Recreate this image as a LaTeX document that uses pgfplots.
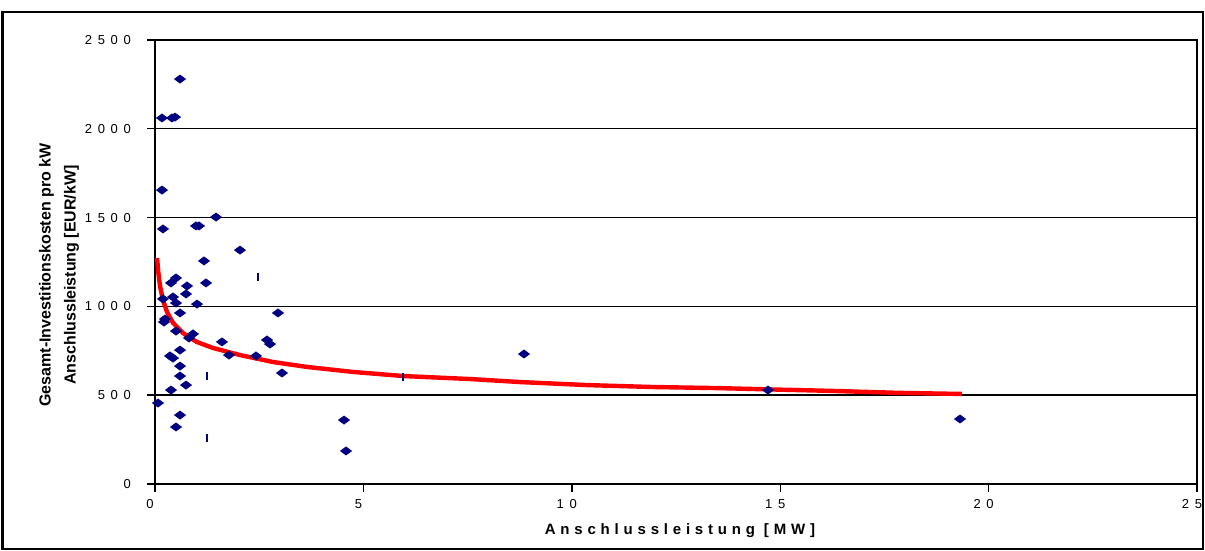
\documentclass[border=0pt]{standalone}
\usepackage{pgfplots}
\pgfplotsset{compat=1.18}
\usepackage{fontspec}
\setmainfont{Liberation Sans}
\newfontfamily\tickfont[LetterSpace=44]{Liberation Sans}
\newfontfamily\labfont[LetterSpace=32]{Liberation Sans}
\definecolor{navy}{RGB}{0,0,128}
\definecolor{fitred}{RGB}{255,0,0}

\pgfplotstableread{
x y
0.600 2280
0.168 2061
0.408 2061
0.480 2066
0.168 1655
0.192 1436
0.984 1453
1.056 1453
1.464 1503
2.039 1317
1.176 1256
0.504 1160
0.384 1132
0.768 1115
1.224 1132
0.744 1070
0.432 1053
0.192 1042
0.504 1019
1.008 1013
0.600 963
2.951 963
0.240 929
0.216 912
0.504 861
0.912 845
0.816 822
1.607 800
2.687 811
2.759 788
0.600 754
0.360 721
0.432 709
1.775 726
2.423 721
0.600 664
3.047 625
0.600 608
0.744 557
0.384 529
0.072 456
0.600 388
0.504 321
4.535 360
4.583 186
8.853 732
14.707 529
19.314 366
}\scatterdata

\pgfplotstableread{
x y
2.471 1166
1.248 608
1.248 259
5.950 602
}\bardata

\pgfplotstableread{
x y
0.05 1272
0.08 1190
0.12 1115
0.19 1036
0.29 968
0.43 908
0.67 850
1.00 800
1.39 766
2.04 726
2.83 687
3.65 659
4.75 631
5.95 608
7.56 591
8.76 574
10.36 557
11.95 546
13.50 540
14.68 533
16.27 524
17.87 513
19.36 507
}\fitdata

\begin{document}
\begin{tikzpicture}
\useasboundingbox (-77.5pt,-33.5pt) rectangle (525pt,242pt);
\begin{axis}[
  at={(0,0)}, anchor=south west,
  scale only axis,
  width=521pt, height=222pt,
  xmin=0, xmax=25, ymin=0, ymax=2500,
  xtick={0,5,10,15,20,25},
  ytick={0,500,1000,1500,2000,2500},
  xtick pos=lower, ytick pos=left,
  tick align=outside,
  major tick length=4pt,
  ymajorgrids,
  major grid style={black, line width=0.7pt},
  axis line style={black, line width=1pt},
  tick style={black, line width=0.7pt},
  /pgf/number format/assume math mode=true,
  /pgf/number format/1000 sep={},
  xticklabel style={font=\tickfont\fontsize{6.5}{7}\selectfont, anchor=north, xshift=-2.5pt},
  yticklabel style={font=\tickfont\fontsize{6.5}{7}\selectfont, anchor=east, xshift=-4.5pt},
  xlabel={\labfont\bfseries Anschlussleistung [MW]},
  xlabel style={font=\fontsize{7.5}{8.5}\selectfont, at={(axis description cs:0.5038,-0.1059)}, anchor=center},
  ylabel={Gesamt-Investitionskosten pro kW\\Anschlussleistung [EUR/kW]},
  ylabel style={font=\bfseries\fontsize{8}{12.5}\selectfont, align=center, at={(axis description cs:-0.0921,0.4707)}, anchor=center},
  clip=false,
]
\addplot[only marks, mark=diamond*, color=navy, mark size=2pt, mark options={xscale=1.8}] table {\scatterdata};
\addplot[only marks, mark=|, color=navy, mark size=2.2pt, line width=1.1pt] table {\bardata};
\addplot[fitred, line width=2.2pt, no marks] table {\fitdata};
\end{axis}
\draw[line width=1.3pt] (-76.25pt,-32.5pt) rectangle (524pt,236pt);
\end{tikzpicture}
\end{document}
